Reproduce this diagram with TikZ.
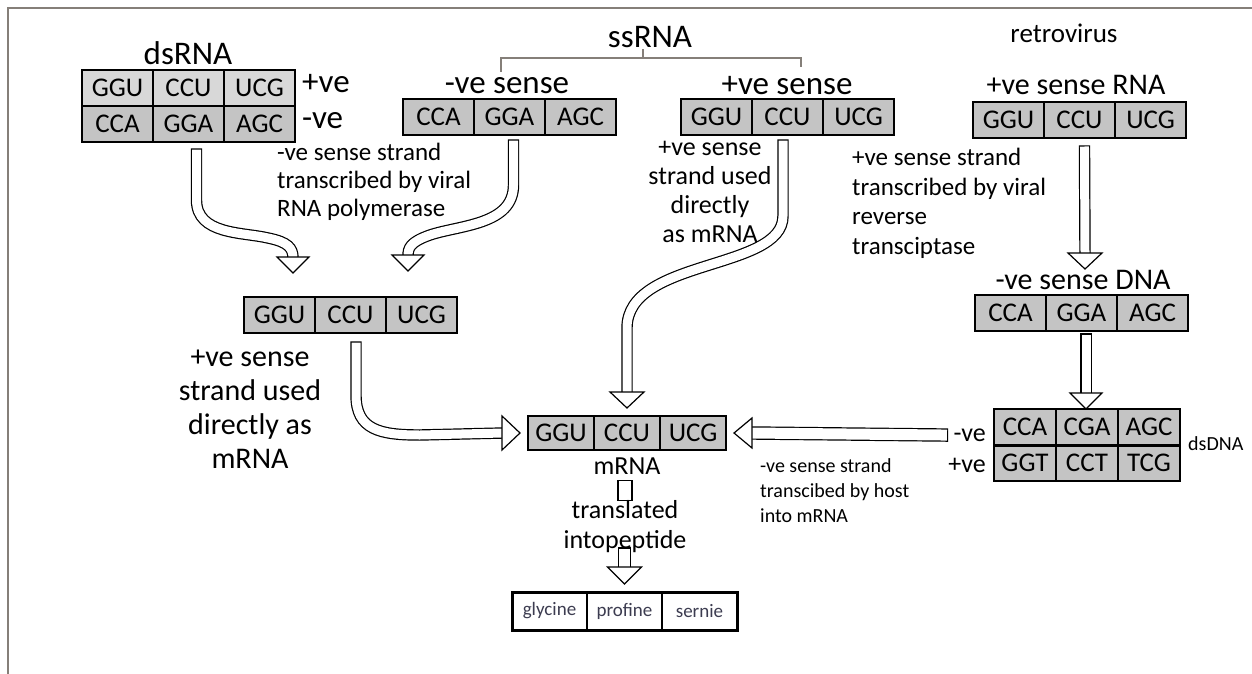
\documentclass[tikz,border=0pt]{standalone}
\usepackage{fontspec}
\setmainfont{Carlito}
\usetikzlibrary{positioning}
\definecolor{cellgray}{HTML}{C4C4C4}
\definecolor{cellpale}{HTML}{D8D8D8}
\definecolor{framegray}{HTML}{857F79}
\definecolor{peptext}{HTML}{3C3C50}
\newcommand{\fs}[2]{\fontsize{#1}{#2}\selectfont}

\begin{document}
\begin{tikzpicture}[x=1pt,y=-1pt,
  cell/.style={draw, line width=1.6pt, fill=cellgray, minimum width=71pt,
    minimum height=36pt, inner sep=0pt, outer sep=0pt, font=\fs{27}{29}},
  heading/.style={inner sep=0pt, font=\fs{33}{36}},
  note/.style={inner sep=0pt, font=\fs{25}{28}},
  shaft/.style={draw, double=white, double distance=9pt, line width=1.2pt, line cap=rect},
  tiphead/.style={draw, line width=1.2pt, fill=white, line join=miter}]
  \useasboundingbox (0,0) rectangle (1252,674);
  \draw[framegray, line width=2pt] (1252,8) -- (8,8) -- (8,674);

  % dsRNA
  \node[heading] (dsname) at (188,53) {dsRNA};
  \node[cell, fill=cellpale, anchor=north west] (dsA1) at (82,70) {GGU};
  \node[cell, fill=cellpale, right=0pt of dsA1] (dsA2) {CCU};
  \node[cell, fill=cellpale, right=0pt of dsA2] (dsA3) {UCG};
  \node[cell, below=0pt of dsA1] (dsB1) {CCA};
  \node[cell, right=0pt of dsB1] (dsB2) {GGA};
  \node[cell, right=0pt of dsB2] (dsB3) {AGC};
  \node[heading, anchor=west] (dsplus) at (302,84) {+ve};
  \node[heading, anchor=west] (dsminus) at (302,121) {-ve};

  % ssRNA
  \node[heading] (ssname) at (650,37) {ssRNA};
  \draw[framegray, line width=1.5pt] (501,72) -- (501,58) -- (801,58) -- (801,67);
  \draw[framegray, line width=1.5pt] (643,58) -- (643,49);
  \node[heading] (negname) at (507,86) {-ve sense};
  \node[cell, anchor=north west] (negA1) at (403,99) {CCA};
  \node[cell, right=0pt of negA1] (negA2) {GGA};
  \node[cell, right=0pt of negA2] (negA3) {AGC};
  \node[heading] (posname) at (787,86) {+ve sense};
  \node[cell, anchor=north west] (posA1) at (681,99) {GGU};
  \node[cell, right=0pt of posA1] (posA2) {CCU};
  \node[cell, right=0pt of posA2] (posA3) {UCG};
  \node[note, anchor=north west, align=left] (negnote) at (277,143)
    {-ve sense strand\\transcribed by viral\\RNA polymerase};
  \node[note, anchor=north, align=center, font=\fs{26}{29}] (posnote) at (710,141)
    {+ve sense\\strand used\\directly\\as mRNA};

  % retrovirus
  \node[heading, font=\fs{27}{30}] (rtname) at (1064,33) {retrovirus};
  \node[heading, font=\fs{30}{33}] (rtrna) at (1076,85) {+ve sense RNA};
  \node[cell, anchor=north west] (rtA1) at (973,102) {GGU};
  \node[cell, right=0pt of rtA1] (rtA2) {CCU};
  \node[cell, right=0pt of rtA2] (rtA3) {UCG};
  \node[note, anchor=north west, align=left, font=\fs{25}{29.5}] (rtnote) at (852,148)
    {+ve sense strand\\transcribed by viral\\reverse\\transciptase};
  \node[heading, font=\fs{30}{33}] (rtdna) at (1083,280) {-ve sense DNA};
  \node[cell, anchor=north west] (dnA1) at (975,295) {CCA};
  \node[cell, right=0pt of dnA1] (dnA2) {GGA};
  \node[cell, right=0pt of dnA2] (dnA3) {AGC};

  % dsDNA
  \node[cell, minimum width=62pt, anchor=north west] (ddA1) at (994,409) {CCA};
  \node[cell, minimum width=62pt, right=0pt of ddA1] (ddA2) {CGA};
  \node[cell, minimum width=62pt, right=0pt of ddA2] (ddA3) {AGC};
  \node[cell, minimum width=62pt, below=0pt of ddA1] (ddB1) {GGT};
  \node[cell, minimum width=62pt, right=0pt of ddB1] (ddB2) {CCT};
  \node[cell, minimum width=62pt, right=0pt of ddB2] (ddB3) {TCG};
  \draw[line width=3pt] (ddB1.north west) -- (ddB3.north east);
  \node[note, anchor=east, font=\fs{26}{28}] (ddminus) at (986,435) {-ve};
  \node[note, anchor=east, font=\fs{26}{28}] (ddplus) at (986,465) {+ve};
  \node[note, anchor=west, font=\fs{20}{22}] (ddname) at (1188,444) {dsDNA};
  \node[note, anchor=north west, align=left, font=\fs{20}{25}] (hostnote) at (760,458)
    {-ve sense strand\\transcibed by host\\into mRNA};

  % middle strand and mRNA
  \node[cell, anchor=north west] (midA1) at (244,297) {GGU};
  \node[cell, right=0pt of midA1] (midA2) {CCU};
  \node[cell, right=0pt of midA2] (midA3) {UCG};
  \node[note, anchor=north, align=center, font=\fs{30}{34}] (midnote) at (250,350)
    {+ve sense\\strand used\\directly as\\mRNA};
  \node[cell, minimum width=66pt, minimum height=34pt, anchor=north west] (mrA1) at (528,416) {GGU};
  \node[cell, minimum width=66pt, minimum height=34pt, right=0pt of mrA1] (mrA2) {CCU};
  \node[cell, minimum width=66pt, minimum height=34pt, right=0pt of mrA2] (mrA3) {UCG};
  \node[note, font=\fs{26}{28}] (mrname) at (627,466) {mRNA};
  \node[draw, line width=1.2pt, minimum width=14pt, minimum height=20pt, inner sep=0pt,
    anchor=north] (stub) at (625,480) {};
  \node[note, anchor=north, align=center, font=\fs{26}{30}] (trnote) at (625,500)
    {translated\\intopeptide};

  % peptide
  \node[cell, fill=white, minimum width=75pt, minimum height=38pt, line width=2pt,
    font=\fs{19}{21}, text=peptext, anchor=north west] (ppA1) at (512,592) {glycine};
  \node[cell, fill=white, minimum width=75pt, minimum height=38pt, line width=2pt,
    font=\fs{19}{21}, text=peptext, right=0pt of ppA1] (ppA2) {profine};
  \node[cell, fill=white, minimum width=75pt, minimum height=38pt, line width=2pt,
    font=\fs{19}{21}, text=peptext, right=0pt of ppA2] (ppA3) {sernie};
  \draw[line width=3pt] (ppA1.north west) rectangle (ppA3.south east);

  % arrows
  \coordinate (tipA) at (293,273);
  \draw[shaft] ([xshift=8pt,yshift=-12pt]dsB2.south) -- ++(0,46)
    .. controls +(0,35) and +(-25,-6) .. (268,238)
    .. controls +(20,4) and +(0,-10) .. ([yshift=15pt]tipA);
  \draw[tiphead] (tipA) -- ++(-16,-16) -- ++(32,0) -- cycle;

  \coordinate (tipB) at (408,271);
  \draw[shaft] ([xshift=4pt,yshift=-10pt]negA2.south) -- ++(0,40)
    .. controls +(0,40) and +(30,-10) .. (430,235)
    .. controls +(-20,7) and +(0,-8) .. ([yshift=15pt]tipB);
  \draw[tiphead] (tipB) -- ++(-16,-16) -- ++(32,0) -- cycle;

  \coordinate (tipC) at ([yshift=8pt]mrA2.north);
  \draw[shaft] ([xshift=-4.5pt,yshift=-10pt]posA2.south) -- ++(0,71)
    .. controls +(0,55) and +(0,-70) .. ([yshift=88pt]mrA2.north)
    -- ([yshift=23pt]mrA2.north);
  \draw[tiphead] (tipC) -- ++(-17,-16) -- ++(34,0) -- cycle;

  \coordinate (tipD) at ([xshift=-8pt]mrA1.west);
  \draw[shaft] ([xshift=5.5pt,yshift=-14pt]midA2.south) -- ++(0,48)
    .. controls +(0,35) and +(-40,0) .. (420,435)
    -- ([xshift=-25pt]mrA1.west);
  \draw[tiphead] (tipD) -- ++(-18,-17) -- ++(0,34) -- cycle;

  \coordinate (tipE) at (1085,269);
  \draw[shaft] ([xshift=5pt,yshift=-13pt]rtA2.south) -- ([yshift=15pt]tipE);
  \draw[tiphead] (tipE) -- ++(-17,-16) -- ++(34,0) -- cycle;

  \coordinate (tipF) at ([xshift=4.5pt]ddA2.north -| dnA2.south);
  \draw[shaft] ([xshift=4.5pt,yshift=-8pt]dnA2.south) -- ([yshift=15pt]tipF);
  \draw[tiphead] (tipF) -- ++(-16,-16) -- ++(32,0) -- cycle;

  \coordinate (tipG) at ([xshift=8pt]mrA3.east);
  \draw[shaft, double distance=11pt] ([xshift=-12pt]ddminus.west) -- ([xshift=26pt]mrA3.east);
  \draw[tiphead] (tipG) -- ++(18,-15) -- ++(0,30) -- cycle;

  \coordinate (tipH) at ([yshift=8pt]ppA2.north);
  \draw[shaft, double distance=11pt] ([yshift=38pt]ppA2.north) -- ([yshift=23pt]ppA2.north);
  \draw[tiphead] (tipH) -- ++(-17,-17) -- ++(34,0) -- cycle;
\end{tikzpicture}
\end{document}
